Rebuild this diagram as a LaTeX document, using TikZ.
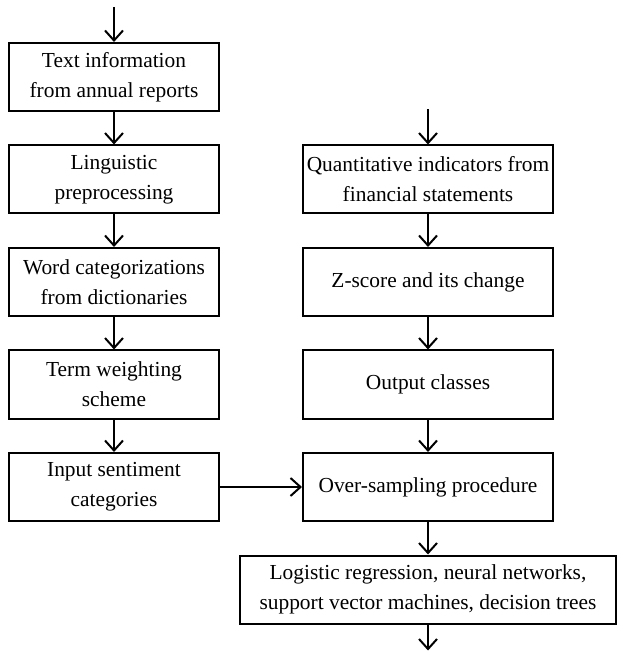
\documentclass[tikz,border=0pt]{standalone}
\usepackage{fontspec}
\setmainfont{Liberation Serif}
\usetikzlibrary{positioning,arrows.meta}

\tikzset{
  box/.style={draw, line width=1pt, minimum height=34pt, align=center,
    inner xsep=0pt, inner ysep=2pt, font=\fontsize{10.7}{15}\selectfont},
  lbox/.style={box, minimum width=105pt},
  rbox/.style={box, minimum width=125pt},
  flow/.style={-{Straight Barb[length=5pt,width=9pt]}, line width=1pt}
}

\begin{document}
\begin{tikzpicture}[node distance=16.25pt]
  \useasboundingbox (0,0) rectangle (312.5pt,-328pt);
  % Define nodes: text branch
  \node[lbox] (text) at (57pt,-38.5pt) {Text information\\from annual reports};
  \node[lbox, below=of text] (ling) {Linguistic\\preprocessing};
  \node[lbox, below=of ling] (words) {Word categorizations\\from dictionaries};
  \node[lbox, below=of words] (weight) {Term weighting\\scheme};
  \node[lbox, below=of weight] (sent) {Input sentiment\\categories};
  % financial branch
  \node[rbox, right=41pt of ling] (quant) {Quantitative indicators from\\financial statements};
  \node[rbox, below=of quant] (zscore) {Z-score and its change};
  \node[rbox, below=of zscore] (classes) {Output classes};
  \node[rbox, below=of classes] (oversamp) {Over-sampling procedure};
  % classifiers
  \node[box, minimum width=188pt, below=of oversamp] (models)
    {Logistic regression, neural networks,\\support vector machines, decision trees};
  % free ends
  \coordinate[above=17.5pt of text] (textin);
  \coordinate[above=17.5pt of quant] (quantin);
  \coordinate[below=13pt of models] (modelsout);
  % connect text branch
  \draw[flow] (textin) -- (text);
  \draw[flow] (text) -- (ling);
  \draw[flow] (ling) -- (words);
  \draw[flow] (words) -- (weight);
  \draw[flow] (weight) -- (sent);
  % connect financial branch
  \draw[flow] (quantin) -- (quant);
  \draw[flow] (quant) -- (zscore);
  \draw[flow] (zscore) -- (classes);
  \draw[flow] (classes) -- (oversamp);
  % join both branches
  \draw[flow] (sent) -- (oversamp);
  \draw[flow] (oversamp) -- (models);
  \draw[flow] (models) -- (modelsout);
\end{tikzpicture}
\end{document}
